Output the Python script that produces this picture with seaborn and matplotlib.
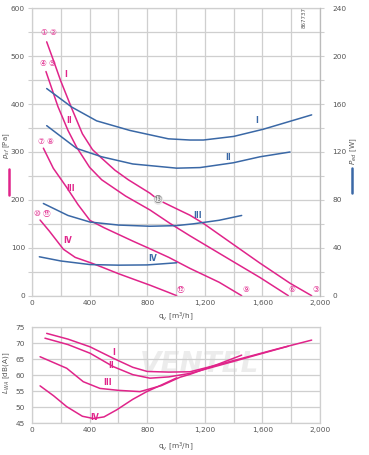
import matplotlib
matplotlib.use("Agg")
import matplotlib.pyplot as plt
from matplotlib.lines import Line2D
from matplotlib.ticker import MultipleLocator, FuncFormatter
import seaborn as sns
import pandas as pd

sns.set_style("white")
plt.rcParams['font.family'] = ['DejaVu Sans', 'Noto Sans CJK JP']

PINK = '#e0248a'
BLUE = '#3a68a6'
GRID = '#cfcfcf'
TXT = '#555555'

# ---- static pressure curves p_sf [Pa] vs q_v [m3/h]
p1_q = [102, 148, 200, 276, 350, 420, 484, 576, 669, 819, 877, 1000, 1097, 1190, 1398, 1583, 1792, 1942]
p1_p = [530, 492, 448, 391, 338, 305, 287, 262, 242, 214, 200, 182, 168, 151, 107, 68, 26, 0]
p2_q = [97, 180, 250, 310, 400, 484, 650, 819, 958, 1097, 1398, 1583, 1780]
p2_p = [468, 395, 345, 310, 268, 242, 208, 179, 151, 125, 71, 38, 0]
p3_q = [79, 148, 241, 320, 403, 500, 600, 700, 819, 950, 1097, 1300, 1456]
p3_p = [308, 266, 226, 190, 157, 142, 128, 114, 98, 80, 57, 28, 0]
p4_q = [56, 120, 218, 300, 414, 500, 600, 700, 819, 947, 1005]
p4_p = [158, 135, 97, 80, 68, 58, 46, 35, 22, 7, 0]

# ---- power input P_ed [W]
w1_q = [102, 276, 449, 680, 947, 1097, 1190, 1400, 1606, 1942]
w1_w = [173, 157.5, 146, 138, 131, 130, 130, 133, 139, 151]
w2_q = [102, 310, 484, 700, 1005, 1167, 1398, 1583, 1792]
w2_w = [142, 123, 116, 110, 106.5, 107, 111, 116, 120]
w3_q = [79, 250, 403, 600, 819, 1000, 1120, 1300, 1456]
w3_w = [77, 67, 61.5, 59, 58, 58.5, 60, 63, 67]
w4_q = [51, 200, 403, 600, 800, 1005]
w4_w = [32.5, 29, 26, 25.5, 25.7, 27.5]

# ---- sound power L_WA [dB(A)]
n1_q = [102, 250, 403, 565, 700, 800, 950, 1097, 1300, 1500, 1700, 1942]
n1_l = [73.1, 71.3, 68.9, 65.3, 62.5, 61.2, 61.0, 61.1, 63.4, 65.8, 68.2, 71.0]
n2_q = [90, 250, 403, 565, 700, 819, 950, 1097, 1300, 1500, 1780]
n2_l = [71.6, 69.6, 66.9, 62.7, 60.2, 59.1, 59.5, 60.6, 63.1, 65.6, 69.1]
n3_q = [56, 241, 356, 472, 600, 750, 900, 1028, 1097, 1300, 1456]
n3_l = [65.8, 62.2, 58.0, 55.9, 55.3, 54.9, 56.8, 59.4, 60.3, 63.6, 66.3]
n4_q = [56, 150, 241, 350, 426, 500, 588, 700, 797, 900, 1005]
n4_l = [56.7, 53.6, 50.2, 47.2, 46.5, 47.0, 49.2, 52.5, 54.9, 57.0, 59.2]

curve_names = ['I', 'II', 'III', 'IV']

def frame(qs, vs, col):
    rows = []
    for name, q, v in zip(curve_names, qs, vs):
        for a, b in zip(q, v):
            rows.append({'curve': name, 'q': a, col: b})
    return pd.DataFrame(rows)

dfp = frame([p1_q, p2_q, p3_q, p4_q], [p1_p, p2_p, p3_p, p4_p], 'p')
dfw = frame([w1_q, w2_q, w3_q, w4_q], [w1_w, w2_w, w3_w, w4_w], 'w')
dfn = frame([n1_q, n2_q, n3_q, n4_q], [n1_l, n2_l, n3_l, n4_l], 'l')

W, H = 369, 455
fig = plt.figure(figsize=(W / 100, H / 100), dpi=100)
ax = fig.add_axes([32 / W, 1 - 295.7 / H, 288 / W, 287.4 / H])
ax2 = ax.twinx()
axb = fig.add_axes([32 / W, 1 - 423.3 / H, 288 / W, 96 / H])

comma = FuncFormatter(lambda v, p: f"{int(v):,}")

def style(a, xmaj, xmin, ymaj, ymin):
    a.set_facecolor('white')
    a.xaxis.set_major_locator(MultipleLocator(xmaj))
    a.xaxis.set_minor_locator(MultipleLocator(xmin))
    a.yaxis.set_major_locator(MultipleLocator(ymaj))
    a.yaxis.set_minor_locator(MultipleLocator(ymin))
    a.grid(True, which='both', color=GRID, lw=0.9)
    a.set_axisbelow(True)
    for s in a.spines.values():
        s.set_color(GRID)
        s.set_linewidth(0.9)
    a.tick_params(which='both', length=3, width=0.8, color=GRID, labelsize=5.3,
                  labelcolor=TXT, pad=2)
    a.tick_params(axis='x', which='both', length=0, pad=3)
    a.xaxis.set_major_formatter(comma)

style(ax, 400, 200, 100, 50)
ax.set_xlim(0, 2000)
ax.set_ylim(0, 600)

ax2.set_ylim(0, 240)
ax2.yaxis.set_major_locator(MultipleLocator(40))
ax2.yaxis.set_minor_locator(MultipleLocator(20))
ax2.tick_params(which='both', length=3, width=0.8, color=GRID, labelsize=5.3,
                labelcolor=TXT, pad=6)
for s in ax2.spines.values():
    s.set_visible(False)
ax2.spines['right'].set_visible(True)
ax2.spines['right'].set_color('#bbbbbb')
ax2.grid(False)

style(axb, 400, 200, 5, 5)
axb.set_xlim(0, 2000)
axb.set_ylim(45, 75)

sns.lineplot(data=dfp, x='q', y='p', units='curve', estimator=None, sort=False,
             color=PINK, lw=1.1, ax=ax, legend=False)
sns.lineplot(data=dfw, x='q', y='w', units='curve', estimator=None, sort=False,
             color=BLUE, lw=1.1, ax=ax2, legend=False)
sns.lineplot(data=dfn, x='q', y='l', units='curve', estimator=None, sort=False,
             color=PINK, lw=1.1, ax=axb, legend=False)
for a in (ax, ax2, axb):
    a.set_xlabel('')
    a.set_ylabel('')
ax.set_xlim(0, 2000)
axb.set_xlim(0, 2000)

# roman numerals
rk = dict(fontsize=5.5, fontweight='bold', ha='center', va='center')
for t, x, y in [('I', 236, 461), ('II', 259, 366), ('III', 269, 223), ('IV', 245, 115)]:
    ax.text(x, y, t, color=PINK, **rk)
for t, x, y in [('I', 1560, 146.4), ('II', 1361, 115.6), ('III', 1153, 67.3), ('IV', 838, 31.4)]:
    ax2.text(x, y, t, color=BLUE, **rk)
for t, x, y in [('I', 565, 67.1), ('II', 549, 63.2), ('III', 523, 57.7), ('IV', 437, 46.9)]:
    axb.text(x, y, t, color=PINK, **rk)

# circled point markers
ck = dict(fontsize=5.5, color=PINK, ha='center', va='center',
          textcoords='offset pixels', annotation_clip=False)
starts = [(p1_q, p1_p, '①', '②', 9), (p2_q, p2_p, '④', '⑤', 8),
          (p3_q, p3_p, '⑦', '⑧', 7), (p4_q, p4_p, '⑩', '⑪', 7)]
for q, p, a, b, dy in starts:
    ax.annotate(a, (q[0], p[0]), xytext=(-3, dy), **ck)
    ax.annotate(b, (q[0], p[0]), xytext=(6, dy), **ck)
for q, p, t in [(p1_q, p1_p, '③'), (p2_q, p2_p, '⑥'), (p3_q, p3_p, '⑨'), (p4_q, p4_p, '⑫')]:
    ax.annotate(t, (q[-1], p[-1]), xytext=(4, 6), **ck)
ax.annotate('⑬', (p1_q[10], p1_p[10]), xytext=(0, 0), fontsize=6, color='#777777',
            ha='center', va='center', textcoords='offset pixels',
            bbox=dict(boxstyle='circle,pad=0.05', fc='#e6e6e6', ec='none'))

# axis labels
fig.text(6.5 / W, 1 - 146 / H, r'$p_{sf}$ [Pa]', rotation=90, fontsize=5.0, color=TXT,
         ha='center', va='center')
fig.add_artist(Line2D([8.5 / W, 8.5 / W], [1 - 169 / H, 1 - 195 / H], color=PINK, lw=1.8))
fig.text(354 / W, 1 - 151 / H, r'$P_{ed}$ [W]', rotation=90, fontsize=5.2, color=TXT,
         ha='center', va='center')
fig.add_artist(Line2D([352 / W, 352 / W], [1 - 168 / H, 1 - 193 / H], color=BLUE, lw=1.8))
fig.text(7 / W, 1 - 373 / H, r'$L_{WA}$ [dB(A)]', rotation=90, fontsize=5.2, color=TXT,
         ha='center', va='center')
fig.text(176 / W, 1 - 317 / H, r'q$_v$ [m$^3$/h]', fontsize=5.3, color=TXT,
         ha='center', va='center')
fig.text(176 / W, 1 - 447 / H, r'q$_v$ [m$^3$/h]', fontsize=5.3, color=TXT,
         ha='center', va='center')
fig.text(304 / W, 1 - 18 / H, '867737', rotation=90, fontsize=4, color=TXT,
         ha='center', va='center')

# faint watermark
axb.text(0.58, 0.62, 'VENTEL', transform=axb.transAxes, fontsize=20, fontweight='bold',
         style='italic', color='#9a9a9a', alpha=0.18, ha='center', va='center', zorder=0)

fig.savefig('out.png', dpi=100)
